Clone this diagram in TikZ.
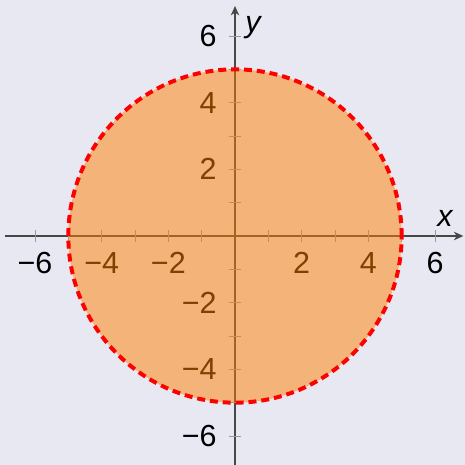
\documentclass[tikz,border=0pt]{standalone}
\usepackage{fontspec}
\setmainfont{Liberation Sans}
\usetikzlibrary{arrows.meta}
\definecolor{bgcol}{RGB}{232,232,243}
\tikzset{
axisline/.style={draw=black!72,line width=0.55pt,-{Stealth[length=4pt,width=3.6pt,inset=1.2pt]}},
tickmark/.style={draw=black!40,line width=0.4pt},
ticklabel/.style={font=\fontsize{13}{15}\selectfont,inner sep=1pt},
axislabel/.style={font=\fontsize{13}{15}\selectfont\itshape,inner sep=0pt},
region/.style={fill=orange,fill opacity=0.5},
boundary/.style={draw=red,line width=1.7pt,dash pattern=on 3.4pt off 2.1pt}
}
\begin{document}
\begin{tikzpicture}[x=0.5cm,y=0.5cm]
\fill[bgcol] (-7.05,-6.87) rectangle (6.9,7.08);
\useasboundingbox (-7.05,-6.87) rectangle (6.9,7.08);
% axes
\coordinate (xmin) at (-6.9,0);
\coordinate (xmax) at (6.85,0);
\coordinate (ymin) at (0,-6.9);
\coordinate (ymax) at (0,6.9);
\draw[axisline] (xmin) -- (xmax);
\draw[axisline] (ymin) -- (ymax);
\foreach \i in {-6,...,-1,1,2,...,6}{
  \draw[tickmark] (\i,-0.18) -- (\i,0.18);
  \draw[tickmark] (-0.18,\i) -- (0.18,\i);
}
\foreach \v/\t in {-6/−6,-4/−4,-2/−2,2/2,4/4,6/6}{
  \node[ticklabel,anchor=north] (xl\v) at (\v,-0.4) {\t};
  \node[ticklabel,anchor=east] (yl\v) at (-0.47,\v) {\t};
}
\node[axislabel] (xname) at (6.3,0.54) {x};
\node[axislabel] (yname) at (0.54,6.24) {y};
% disc
\fill[region] (0,0) circle (5);
\draw[boundary] (0,0) circle (5);
\end{tikzpicture}
\end{document}
